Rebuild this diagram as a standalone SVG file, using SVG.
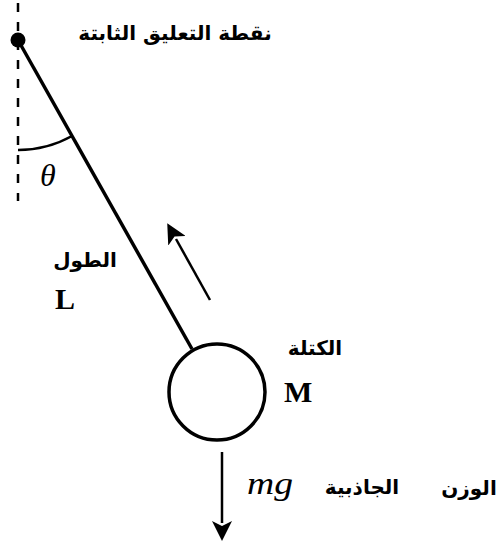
<svg xmlns="http://www.w3.org/2000/svg" width="501" height="552" viewBox="0 0 501 552">
<style>
.ar{font-family:"DejaVu Sans","Noto Sans",sans-serif;font-weight:bold;font-size:20px;fill:#000}
.ser{font-family:"Liberation Serif","DejaVu Serif",serif;fill:#000}
.ln{stroke:#000;fill:none}
</style>
<defs>
<marker id="ah2" viewBox="0 0 20 20" refX="2" refY="10" markerWidth="20" markerHeight="20" markerUnits="userSpaceOnUse" orient="auto">
<path d="M0,0 L20,10 L0,20 L5,10 z" fill="#000"/>
</marker>
</defs>
<g id="reference">
<line class="ln" x1="18" y1="0" x2="18" y2="201" stroke-width="2.5" stroke-dasharray="9 10" stroke-dashoffset="-3"/>
<path class="ln" d="M18,150 A110,110 0 0 0 72,136" stroke-width="2.5"/>
<text class="ser" x="40" y="186" font-size="32" font-style="italic">θ</text>
</g>
<g id="pivot">
<circle cx="18" cy="40" r="7.5" fill="#000"/>
<text class="ar" x="175" y="40" text-anchor="middle">نقطة التعليق الثابتة</text>
</g>
<g id="connectors">
<line class="ln" x1="18" y1="40" x2="192" y2="349" stroke-width="3.5"/>
<line class="ln" x1="210" y1="300" x2="176" y2="239" stroke-width="2.5" marker-end="url(#ah2)"/>
<line class="ln" x1="222" y1="452" x2="222" y2="523" stroke-width="2.5" marker-end="url(#ah2)"/>
</g>
<g id="length">
<text class="ar" x="85" y="267" text-anchor="middle">الطول</text>
<text class="ser" x="55" y="309" font-size="30" font-weight="bold">L</text>
</g>
<g id="mass">
<circle cx="217" cy="392" r="48" fill="none" stroke="#000" stroke-width="3.5"/>
<text class="ar" x="315" y="355" text-anchor="middle">الكتلة</text>
<text class="ser" x="284" y="402" font-size="30" font-weight="bold">M</text>
</g>
<g id="weight">
<text class="ser" x="247" y="494" font-size="32" font-style="italic" textLength="46" lengthAdjust="spacingAndGlyphs">mg</text>
<text class="ar" x="362" y="494" text-anchor="middle">الجاذبية</text>
<text class="ar" x="469" y="495" text-anchor="middle">الوزن</text>
</g>
</svg>
